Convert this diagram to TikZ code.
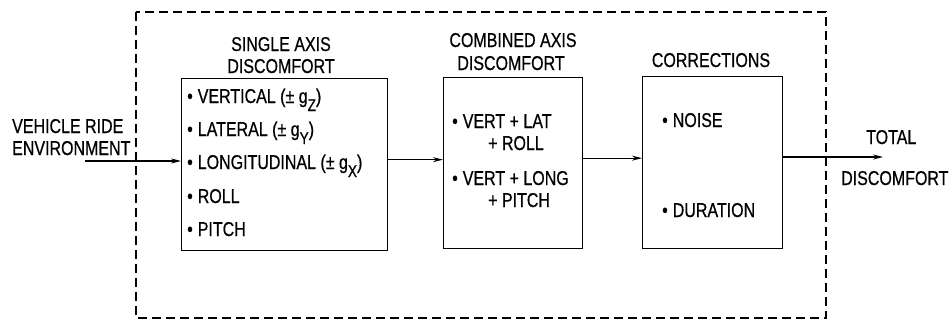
\documentclass[tikz,border=0pt]{standalone}
\usepackage{fontspec}
\setmainfont[FakeStretch=0.8,FakeBold=0.6]{Liberation Sans}
\usetikzlibrary{arrows.meta}
\newcommand{\sub}[1]{\raisebox{-8pt}{\fontsize{17}{17}\selectfont #1}}
\newcommand{\bul}{\textbullet\hspace{5pt}}
\tikzset{
  txt/.style={inner sep=0pt, anchor=base west, font=\fontsize{20}{20}\selectfont},
  ctxt/.style={inner sep=0pt, anchor=base, font=\fontsize{20}{20}\selectfont},
  blk/.style={draw, line width=1.3pt, inner sep=0pt, anchor=north west},
  flow/.style={line width=1.1pt, -{Stealth[length=10pt,width=5pt]}},
  frame/.style={line width=1.6pt, dash pattern=on 9pt off 5pt}
}
\begin{document}
\begin{tikzpicture}[x=1pt,y=-1pt]
\useasboundingbox (0,0) rectangle (950,324);
% dashed frame
\draw[frame] (136,12) rectangle (826,318);
% boxes
\node[blk, minimum width=206pt, minimum height=172pt] (b1) at (181,78) {};
\node[blk, minimum width=139pt, minimum height=171pt] (b2) at (443,77) {};
\node[blk, minimum width=140pt, minimum height=172pt] (b3) at (642,76) {};
% titles
\node[ctxt] (t1a) at (281,51) {SINGLE AXIS};
\node[ctxt] (t1b) at (281,73) {DISCOMFORT};
\node[ctxt] (t2a) at (513,47) {COMBINED AXIS};
\node[ctxt] (t2b) at (511,70) {DISCOMFORT};
\node[ctxt] (t3) at (711,67) {CORRECTIONS};
% box 1 items
\node[txt] (i1) at (187,103) {\bul VERTICAL (± g\sub{Z})};
\node[txt] (i2) at (187,136) {\bul LATERAL (± g\sub{Y})};
\node[txt] (i3) at (187,169) {\bul LONGITUDINAL (± g\sub{X})};
\node[txt] (i4) at (187,203) {\bul ROLL};
\node[txt] (i5) at (187,236) {\bul PITCH};
% box 2 items
\node[txt] (j1) at (452,128) {\bul VERT + LAT};
\node[txt] (j2) at (488,150) {+ ROLL};
\node[txt] (j3) at (452,185) {\bul VERT + LONG};
\node[txt] (j4) at (488,207) {+ PITCH};
% box 3 items
\node[txt] (k1) at (662,127) {\bul NOISE};
\node[txt] (k2) at (662,217) {\bul DURATION};
% outside labels
\node[txt] (v1) at (12,133) {VEHICLE RIDE};
\node[txt] (v2) at (12,155) {ENVIRONMENT};
\node[txt] (o1) at (866,144) {TOTAL};
\node[txt] (o2) at (841,185) {DISCOMFORT};
% connectors
\coordinate (in) at (85,161);
\coordinate (out) at (883,157);
\draw[flow] (in) -- (in -| b1.west);
\draw[flow] ([yshift=5pt]b1.east) -- ([yshift=5pt]b1.east -| b2.west);
\draw[flow] ([yshift=5pt]b2.east) -- ([yshift=5pt]b2.east -| b3.west);
\draw[flow] (out -| b3.east) -- (out);
\end{tikzpicture}
\end{document}
